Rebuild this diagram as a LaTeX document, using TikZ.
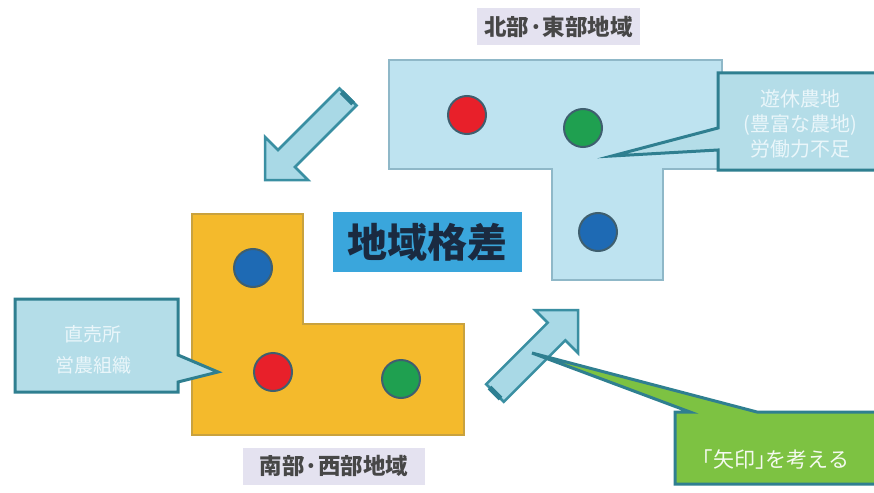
\documentclass[tikz,border=0pt]{standalone}
\usepackage{fontspec}
\setmainfont{Noto Sans CJK JP}
\newfontfamily\jp{Noto Sans CJK JP}
\definecolor{lblue}{HTML}{BEE3F0}
\definecolor{lblueedge}{HTML}{8FB8C8}
\definecolor{orangef}{HTML}{F4BA2C}
\definecolor{orangeedge}{HTML}{C9A23E}
\definecolor{callf}{HTML}{B4DDE8}
\definecolor{calledge}{HTML}{2F7F90}
\definecolor{greenf}{HTML}{7DC242}
\definecolor{arrowf}{HTML}{A9D9E6}
\definecolor{arrowedge}{HTML}{3A8FA2}
\definecolor{arrowdark}{HTML}{2D7F92}
\definecolor{dred}{HTML}{E8202A}
\definecolor{dgreen}{HTML}{1FA050}
\definecolor{dblue}{HTML}{1E6AB4}
\definecolor{dotedge}{HTML}{3F5F6F}
\definecolor{labelf}{HTML}{E4E2F0}
\definecolor{titlef}{HTML}{3AA6DC}
\definecolor{titlet}{HTML}{1A2A40}
\definecolor{calltext}{HTML}{EAF6FA}
\tikzset{
  dot/.style={circle, minimum size=38pt, inner sep=0pt, line width=2pt, draw=dotedge},
  regionlabel/.style={fill=labelf, text=black!72, font=\jp\bfseries\fontsize{22.5}{24}\selectfont, inner sep=0pt, minimum height=37pt},
  callbox/.style={fill=callf, draw=calledge, line width=3pt, line join=miter},
  blockarrow/.style={fill=arrowf, draw=arrowedge, line width=2.5pt, line join=miter},
  calltxt/.style={text=calltext, font=\jp\fontsize{20}{25}\selectfont, align=center, inner sep=0pt}
}
\begin{document}
\begin{tikzpicture}[x=1pt,y=-1pt]
\useasboundingbox (0,0) rectangle (874,492);
\clip (0,0) rectangle (874,492);
\fill[white] (0,0) rectangle (874,492);

% north-east region (light blue L)
\draw[fill=lblue, draw=lblueedge, line width=1.5pt]
  (389,60) -- (722,60) -- (722,169) -- (663,169) -- (663,280) -- (552,280) -- (552,169) -- (389,169) -- cycle;
% south-west region (orange L)
\draw[fill=orangef, draw=orangeedge, line width=1.5pt]
  (192,214) -- (303,214) -- (303,324) -- (464,324) -- (464,435) -- (192,435) -- cycle;

% dots
\node[dot, fill=dred]   (ne1) at (467,115) {};
\node[dot, fill=dgreen] (ne2) at (583,128) {};
\node[dot, fill=dblue]  (ne3) at (598,232) {};
\node[dot, fill=dblue]  (sw1) at (253,268) {};
\node[dot, fill=dred]   (sw2) at (273,372) {};
\node[dot, fill=dgreen] (sw3) at (401,379) {};

% region labels
\node[regionlabel, minimum width=163pt] (lblne) at (558.5,27) {北部·東部地域};
\node[regionlabel, minimum width=182pt] (lblsw) at (334,466) {南部·西部地域};

% title
\node[fill=titlef, text=titlet, minimum width=189pt, minimum height=60pt, inner sep=0pt,
      font=\jp\bfseries\fontsize{40}{44}\selectfont] (title) at (427.5,242) {地域格差};

% block arrows
\draw[blockarrow] (339.5,88.5) -- (278,150) -- (265,137) -- (265,180) -- (308,180) -- (295,167) -- (356.5,105.5) -- cycle;
\draw[arrowdark, line width=5pt] (341.5,92) -- (353,103.5);
\draw[blockarrow] (486.2,384.2) -- (547.7,322.7) -- (535,310) -- (578,310) -- (578,353) -- (565.3,340.3) -- (503.8,401.8) -- cycle;
\draw[arrowdark, line width=5pt] (489.5,387.5) -- (500.5,398.5);

% right callout
\draw[callbox] (718,73) -- (880,73) -- (880,170) -- (718,170) -- (718,150) -- (612,156) -- (718,128) -- cycle;
\node[calltxt] (cr) at (800,124) {遊休農地\\(豊富な農地)\\労働力不足};
% left callout
\draw[callbox] (15,299) -- (178,299) -- (178,355) -- (218,372) -- (178,382) -- (178,392) -- (15,392) -- cycle;
\node[calltxt, font=\jp\fontsize{19}{31}\selectfont] (cl) at (93,350) {直売所\\営農組織};
% green callout
\draw[callbox, fill=greenf] (675,412) -- (690,412) -- (532,353) -- (757,412) -- (880,412) -- (880,484) -- (675,484) -- cycle;
\node[calltxt, text=white!92!greenf, font=\jp\fontsize{21}{25}\selectfont] (cg) at (776,460) {｢矢印｣を考える};
\end{tikzpicture}
\end{document}
